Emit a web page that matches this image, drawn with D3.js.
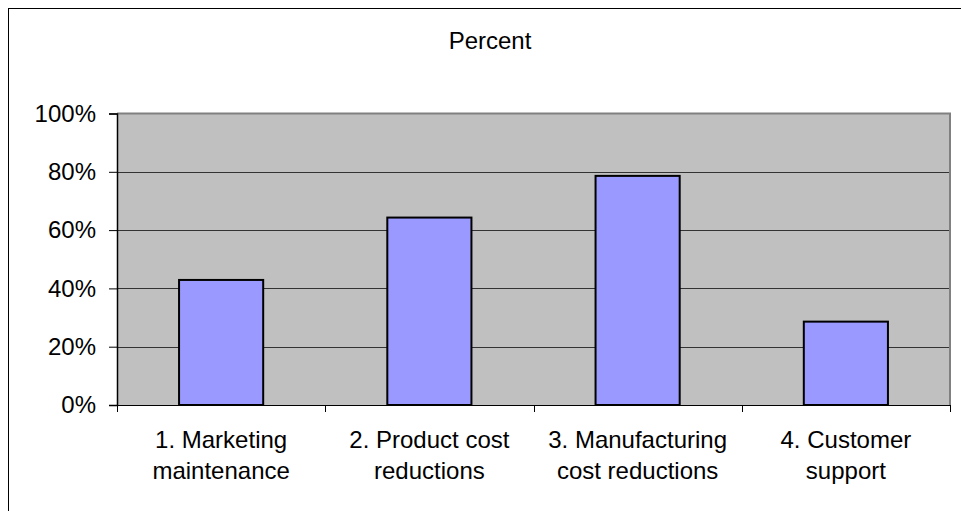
<!DOCTYPE html>
<html>
<head>
<meta charset="utf-8">
<script src="https://cdn.jsdelivr.net/npm/d3@7"></script>
<style>
  html, body { margin: 0; padding: 0; background: #fff; }
  svg { display: block; }
  text { font-family: "Liberation Sans", Arial, sans-serif; fill: #000; }
</style>
</head>
<body>
<svg id="chart" width="961" height="511"></svg>
<script>
// Share of respondents per improvement area
const categories = [
  ["1. Marketing", "maintenance"],
  ["2. Product cost", "reductions"],
  ["3. Manufacturing", "cost reductions"],
  ["4. Customer", "support"]
];
const values = [42.9, 64.3, 78.6, 28.6];
const yTicks = [0, 20, 40, 60, 80, 100];
const chartTitle = "Percent";

const FONT = 24;
const svg = d3.select("#chart");
const W = 961, H = 511;

// outer chart frame
svg.append("rect")
  .attr("x", 8.5).attr("y", 8.5)
  .attr("width", W).attr("height", H)
  .attr("fill", "#fff").attr("stroke", "#000").attr("stroke-width", 1);

const plot = { left: 117, right: 950, top: 113.5, bottom: 405 };

const x = d3.scaleBand()
  .domain(d3.range(categories.length))
  .range([plot.left, plot.right])
  .paddingInner(0).paddingOuter(0);

const y = d3.scaleLinear().domain([0, 100]).range([plot.bottom, plot.top]);

// plot background
svg.append("rect")
  .attr("x", plot.left).attr("y", plot.top)
  .attr("width", plot.right - plot.left).attr("height", plot.bottom - plot.top)
  .attr("fill", "#C0C0C0");

// gridlines
svg.append("g")
  .selectAll("line")
  .data(yTicks.filter(t => t > 0 && t < 100))
  .join("line")
  .attr("x1", plot.left).attr("x2", plot.right)
  .attr("y1", d => Math.round(y(d)) + 0.5).attr("y2", d => Math.round(y(d)) + 0.5)
  .attr("stroke", "#333").attr("stroke-width", 1);

// gray frame on top and right of plot area
svg.append("path")
  .attr("d", `M${plot.left},${plot.top} H${plot.right} V${plot.bottom}`)
  .attr("fill", "none").attr("stroke", "#808080").attr("stroke-width", 2);

// bars
const barW = x.bandwidth() * 0.404;
svg.append("g")
  .selectAll("rect")
  .data(values)
  .join("rect")
  .attr("x", (d, i) => x(i) + (x.bandwidth() - barW) / 2)
  .attr("y", d => y(d))
  .attr("width", barW)
  .attr("height", d => y(0) - y(d))
  .attr("fill", "#9999FF")
  .attr("stroke", "#000")
  .attr("stroke-width", 2);

// y axis
const yAxis = d3.axisLeft(y)
  .tickValues(yTicks)
  .tickFormat(d => d + "%")
  .tickSize(8)
  .tickPadding(13);
const gy = svg.append("g")
  .attr("transform", `translate(${plot.left},0)`)
  .call(yAxis);
gy.select(".domain").attr("stroke", "#000").attr("stroke-width", 1.5);
gy.selectAll(".tick line").attr("stroke", "#000");
gy.selectAll(".tick text")
  .attr("font-size", FONT)
  .attr("font-family", "'Liberation Sans', Arial, sans-serif")
  .attr("fill", "#000");

// x axis baseline and category tick marks
const xEdges = d3.range(categories.length + 1).map(i =>
  i < categories.length ? x(i) : x(categories.length - 1) + x.bandwidth());
svg.append("line")
  .attr("x1", plot.left).attr("x2", plot.right)
  .attr("y1", plot.bottom + 0.5).attr("y2", plot.bottom + 0.5)
  .attr("stroke", "#000").attr("stroke-width", 1);
svg.append("g")
  .selectAll("line")
  .data(xEdges)
  .join("line")
  .attr("x1", d => Math.round(d) + 0.5).attr("x2", d => Math.round(d) + 0.5)
  .attr("y1", plot.bottom).attr("y2", plot.bottom + 7)
  .attr("stroke", "#000").attr("stroke-width", 1);

// category labels (two lines)
const lbl = svg.append("g")
  .selectAll("text")
  .data(categories)
  .join("text")
  .attr("text-anchor", "middle")
  .attr("font-size", FONT)
  .attr("x", (d, i) => x(i) + x.bandwidth() / 2);
lbl.selectAll("tspan")
  .data(d => d)
  .join("tspan")
  .attr("x", function () { return d3.select(this.parentNode).attr("x"); })
  .attr("y", (d, j) => 448 + j * 31)
  .text(d => d);

// title
svg.append("text")
  .attr("x", 490).attr("y", 49)
  .attr("text-anchor", "middle")
  .attr("font-size", FONT)
  .text(chartTitle);
</script>
</body>
</html>
